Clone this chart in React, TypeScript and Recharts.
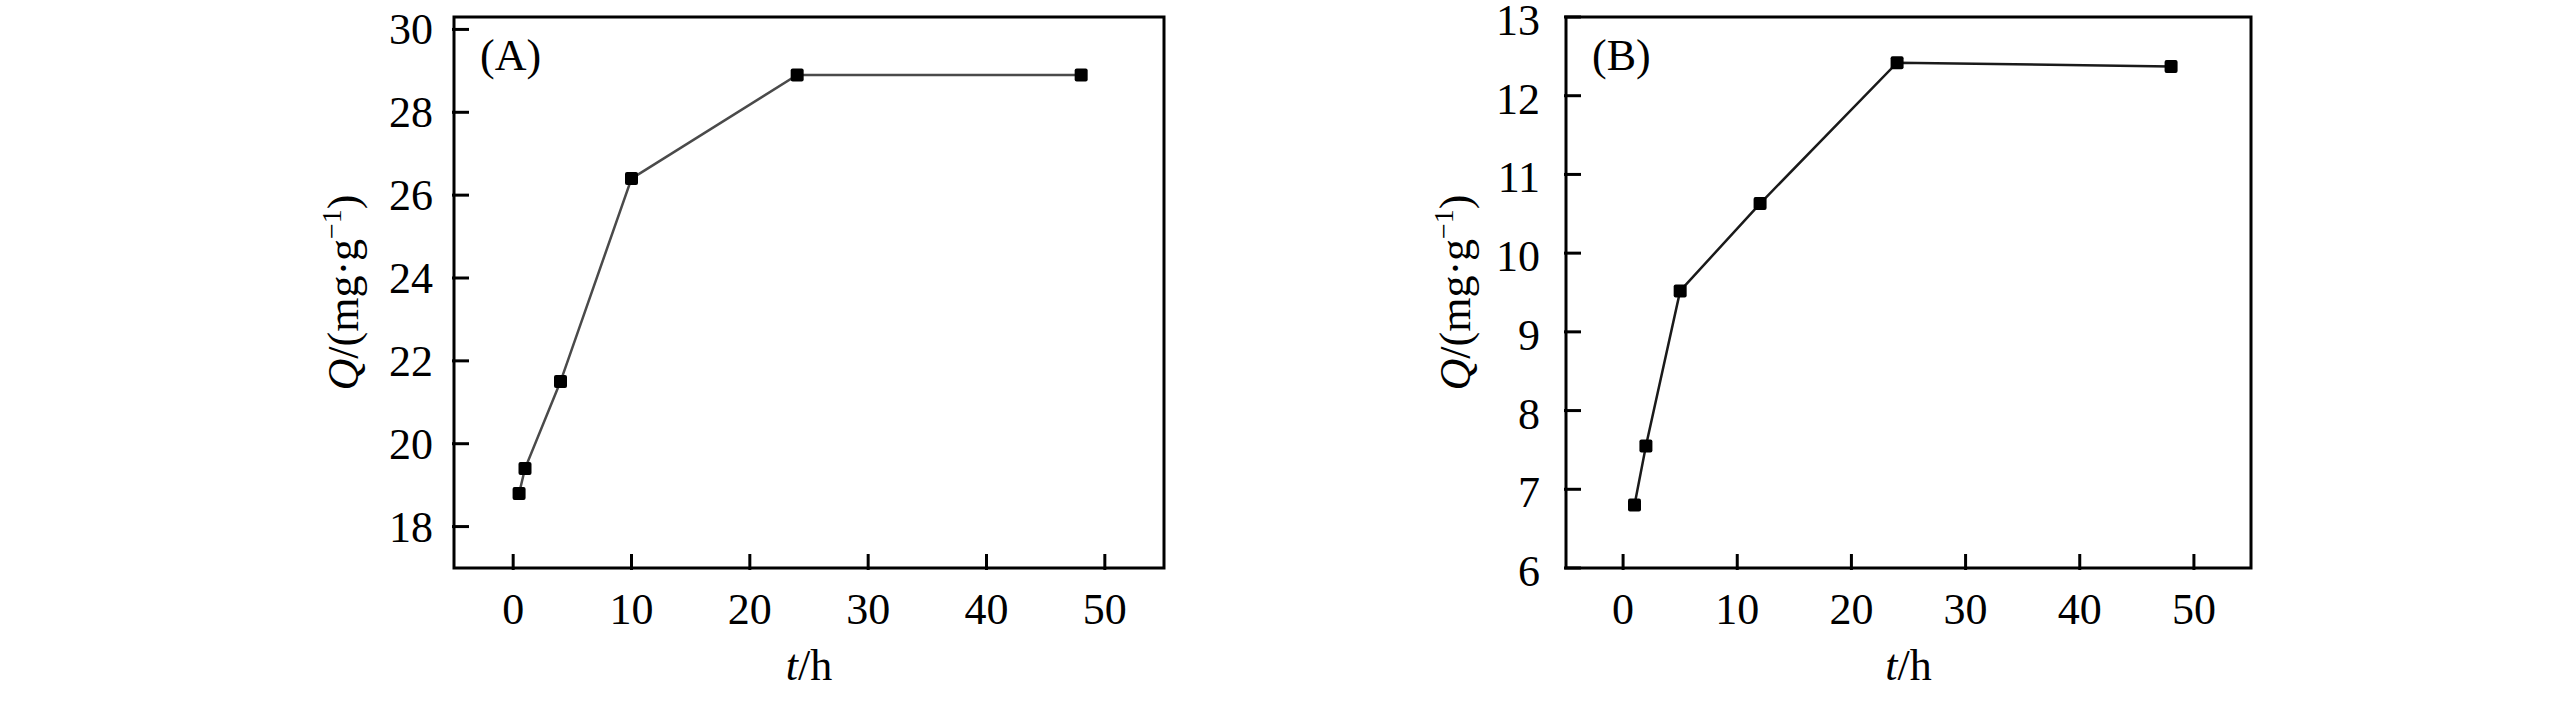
import { LineChart, Line, XAxis, YAxis, ReferenceArea, Label } from 'recharts';

// adsorption time (h) and Q (mg/g) for the two panels
const timeA = [0.5, 1, 4, 10, 24, 48];
const qA = [18.8, 19.4, 21.5, 26.4, 28.9, 28.9];
const timeB = [1, 2, 5, 12, 24, 48];
const qB = [6.8, 7.55, 9.52, 10.63, 12.42, 12.37];

const xTicks = [0, 10, 20, 30, 40, 50];
const yTicksA = [18, 20, 22, 24, 26, 28, 30];
const yTicksB = [6, 7, 8, 9, 10, 11, 12, 13];

const FONT = '"Liberation Serif", "Times New Roman", serif';
const FS = 44;
const TOP = 17;
const BOTTOM = 568;

interface PanelProps {
  tag: string;
  time: number[];
  q: number[];
  yDomain: [number, number];
  yTicks: number[];
  offsetLeft: number;
  width: number;
  axisWidth: number;
  right: number;
  labelGap: number;
  labelDy: number;
  lineColor: string;
}

function XTick(props: any) {
  const { x, y, payload } = props;
  return (
    <g>
      <line x1={x} y1={y} x2={x} y2={y - 16} stroke="#000" strokeWidth={3} />
      <text x={x} y={y + 54} textAnchor="middle" fontFamily={FONT} fontSize={FS} fill="#000">
        {payload.value}
      </text>
    </g>
  );
}

function SquareDot(props: any) {
  const { cx, cy, index } = props;
  return <rect key={index} x={cx - 6.5} y={cy - 6.5} width={13} height={13} rx={2} fill="#000" />;
}

function Panel({ tag, time, q, yDomain, yTicks, offsetLeft, width, axisWidth, right, labelGap, labelDy, lineColor }: PanelProps) {
  const data = time.map((t, i) => ({ t, q: q[i] }));
  const plotLeft = axisWidth;
  const plotRight = width - right;
  const cx = (plotLeft + plotRight) / 2;
  const cy = (TOP + BOTTOM) / 2;
  const titleX = plotLeft - 96;

  const yTick = (props: any) => {
    const { x, y, payload } = props;
    return (
      <g>
        <line x1={x} y1={y} x2={x + 17} y2={y} stroke="#000" strokeWidth={3} />
        <text x={x - labelGap} y={y + labelDy} textAnchor="end" fontFamily={FONT} fontSize={FS} fill="#000">
          {payload.value}
        </text>
      </g>
    );
  };

  return (
    <div style={{ position: 'absolute', left: offsetLeft, top: 0 }}>
      <LineChart width={width} height={708} data={data} margin={{ top: TOP, right, bottom: 0, left: 0 }}>
        <XAxis
          type="number"
          dataKey="t"
          domain={[-5, 55]}
          ticks={xTicks}
          interval={0}
          tickSize={0}
          tickLine={false}
          axisLine={false}
          height={140}
          tick={XTick}
          allowDataOverflow
          label={{
            content: () => (
              <text x={cx} y={680} textAnchor="middle" fontFamily={FONT} fontSize={FS} fill="#000">
                <tspan fontStyle="italic">t</tspan>/h
              </text>
            ),
          }}
        />
        <YAxis
          type="number"
          domain={yDomain}
          ticks={yTicks}
          interval={0}
          tickSize={0}
          tickLine={false}
          axisLine={false}
          width={axisWidth}
          tick={yTick}
          allowDataOverflow
          label={{
            content: () => (
              <text
                x={titleX}
                y={cy}
                transform={`rotate(-90, ${titleX}, ${cy})`}
                textAnchor="middle"
                fontFamily={FONT}
                fontSize={FS}
                fill="#000"
              >
                <tspan fontStyle="italic">Q</tspan>/(mg·g
                <tspan dy={-17} fontSize={28}>−1</tspan>
                <tspan dy={17}>)</tspan>
              </text>
            ),
          }}
        />
        <ReferenceArea
          x1={-5}
          x2={55}
          y1={yDomain[0]}
          y2={yDomain[1]}
          fill="none"
          stroke="#000"
          strokeWidth={3}
          ifOverflow="visible"
        >
          <Label
            content={() => (
              <text x={plotLeft + 26} y={70} fontFamily={FONT} fontSize={FS} fill="#000">
                {tag}
              </text>
            )}
          />
        </ReferenceArea>
        <Line
          type="linear"
          dataKey="q"
          stroke={lineColor}
          strokeWidth={2.5}
          dot={SquareDot}
          activeDot={false}
          isAnimationActive={false}
        />
      </LineChart>
    </div>
  );
}

export default function App() {
  return (
    <div style={{ position: 'absolute', left: 0, top: 0, width: 2567, height: 708, background: '#fff' }}>
      <Panel
        tag="(A)"
        time={timeA}
        q={qA}
        yDomain={[17, 30.3]}
        yTicks={yTicksA}
        offsetLeft={0}
        width={1230}
        axisWidth={454}
        right={66}
        labelGap={19}
        labelDy={15}
        lineColor="#4a4a4a"
      />
      <Panel
        tag="(B)"
        time={timeB}
        q={qB}
        yDomain={[6, 13]}
        yTicks={yTicksB}
        offsetLeft={1250}
        width={1050}
        axisWidth={316}
        right={49}
        labelGap={24}
        labelDy={18}
        lineColor="#1a1a1a"
      />
    </div>
  );
}
